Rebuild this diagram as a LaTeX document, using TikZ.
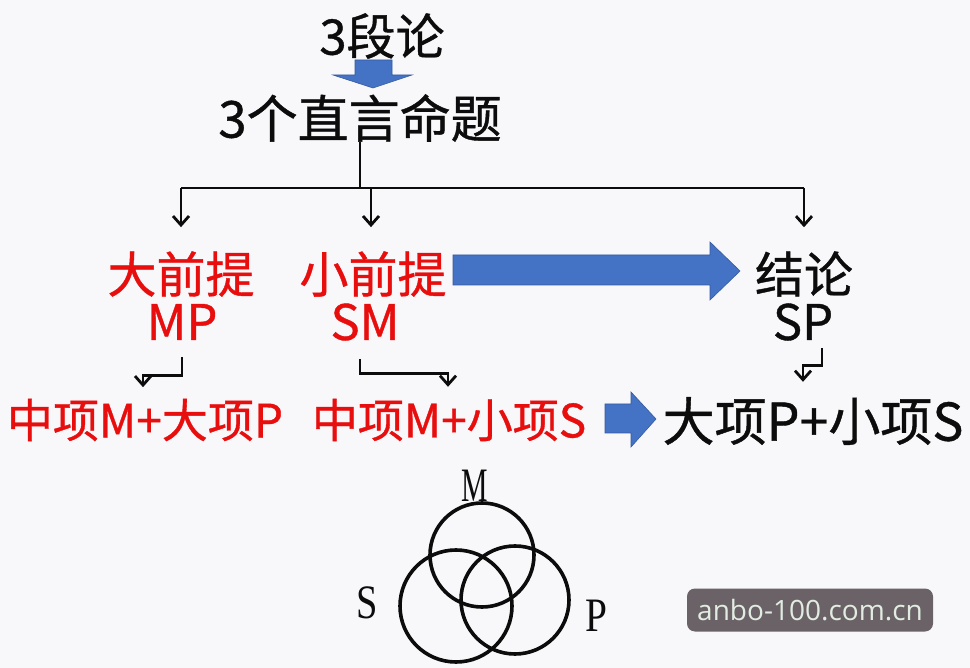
\documentclass[tikz,border=0pt]{standalone}
\usepackage{fontspec}
\usepackage{tikz}
\usetikzlibrary{arrows.meta}
\setmainfont{Liberation Serif}
\newfontfamily\cjk[FakeBold=0.8]{Noto Sans CJK SC}
\newfontfamily\wmfont{Open Sans}
\definecolor{bg}{RGB}{248,247,250}
\definecolor{ink}{RGB}{12,12,12}
\definecolor{hot}{RGB}{232,14,14}
\definecolor{bluearr}{RGB}{68,114,196}
\definecolor{wmgray}{RGB}{106,98,102}
\definecolor{wmtext}{RGB}{226,236,226}
\tikzset{
  headtext/.style ={inner sep=0pt, font=\cjk\fontsize{49}{49}\selectfont, text=ink},
  premtext/.style ={headtext, text=hot},
  termtext/.style ={inner sep=0pt, font=\cjk\fontsize{46}{46}\selectfont, text=hot},
  vennlabel/.style={inner sep=0pt, font=\fontsize{48}{48}\selectfont, text=ink},
  ring/.style     ={draw=ink, line width=3.6pt},
  thinline/.style ={line width=2.8pt, color=ink},
  thinarr/.style  ={thinline, -{Straight Barb[length=9pt, width=16pt]}},
  fatarr/.style   ={fill=bluearr, draw=bluearr!80!black, line width=0.6pt},
}
\begin{document}
\begin{tikzpicture}[x=1pt, y=-1pt]
\fill[bg] (0,0) rectangle (970,668);

% title and the three propositions
\node[headtext] (lun)  at (382,36)  {3段论};
\node[headtext, font=\cjk\fontsize{51}{51}\selectfont] (ming) at (360,118) {3个直言命题};

\node[premtext] (da)   at (181,274) {大前提};
\node[premtext] (mp)   at (182,322) {MP};
\node[premtext] (xiao) at (373,274) {小前提};
\node[premtext] (sm)   at (365,322) {SM};
\node[headtext] (jie)  at (804,274) {结论};
\node[headtext] (sp)   at (803,322) {SP};

% terms
\node[termtext] (zd) at (145,420) {中项M+大项P};
\node[termtext] (zx) at (449,420) {中项M+小项S};
\node[termtext, text=ink, font=\cjk\fontsize{52}{52}\selectfont] (dx) at (813,421) {大项P+小项S};

% block arrows
\fill[fatarr] (355,60) -- (392,60) -- (392,75) -- (412,75) -- (373,88)
  -- (333,75) -- (355,75) -- cycle;
\fill[fatarr] (453,255) -- (710,255) -- (710,242) -- (740,271) -- (710,300)
  -- (710,285) -- (453,285) -- cycle;
\fill[fatarr] (605,404) -- (631,404) -- (631,392) -- (656,419) -- (631,447)
  -- (631,433) -- (605,433) -- cycle;

% tree
\coordinate (fork) at (360,188);
\draw[thinline] (ming.south) -- (fork);
\draw[thinline] (fork -| da) -- (fork -| jie);
\draw[thinarr] (fork -| da) -- ([yshift=24pt]da.north);
\draw[thinarr] (fork -| 371,0) -- ([xshift=-2pt, yshift=24pt]xiao.north);
\draw[thinarr] (fork -| jie) -- ([yshift=24pt]jie.north);

% small elbows
\draw[thinarr] ([yshift=-17pt]mp.south) -- ++(0,18) -- ++(-39,0) -- ++(0,12);
\draw[thinarr] ([xshift=-5pt, yshift=-18pt]sm.south) -- ++(0,15) -- ++(88,0) -- ++(0,13);
\draw[thinarr] ([xshift=19pt, yshift=-7pt]sp.south) -- ++(0,18) -- ++(-19,0) -- ++(0,16);

% venn
\draw[ring] (482,555) circle[radius=52pt];
\draw[ring] (456,606) circle[radius=56pt];
\draw[ring] (515,600) circle[radius=54pt];
\node[vennlabel] (lm) at (475,486) {\scalebox{0.62}[1]{M}};
\node[vennlabel] (ls) at (367,603) {\scalebox{0.8}[1]{S}};
\node[vennlabel] (lp) at (596,616) {\scalebox{0.82}[1]{P}};

% watermark
\node[fill=wmgray, rounded corners=8pt, minimum width=246pt, minimum height=43pt,
      inner sep=0pt, text=wmtext, font=\wmfont\fontsize{28}{28}\selectfont]
  (wm) at (810,610) {anbo-100.com.cn};
\end{tikzpicture}
\end{document}
